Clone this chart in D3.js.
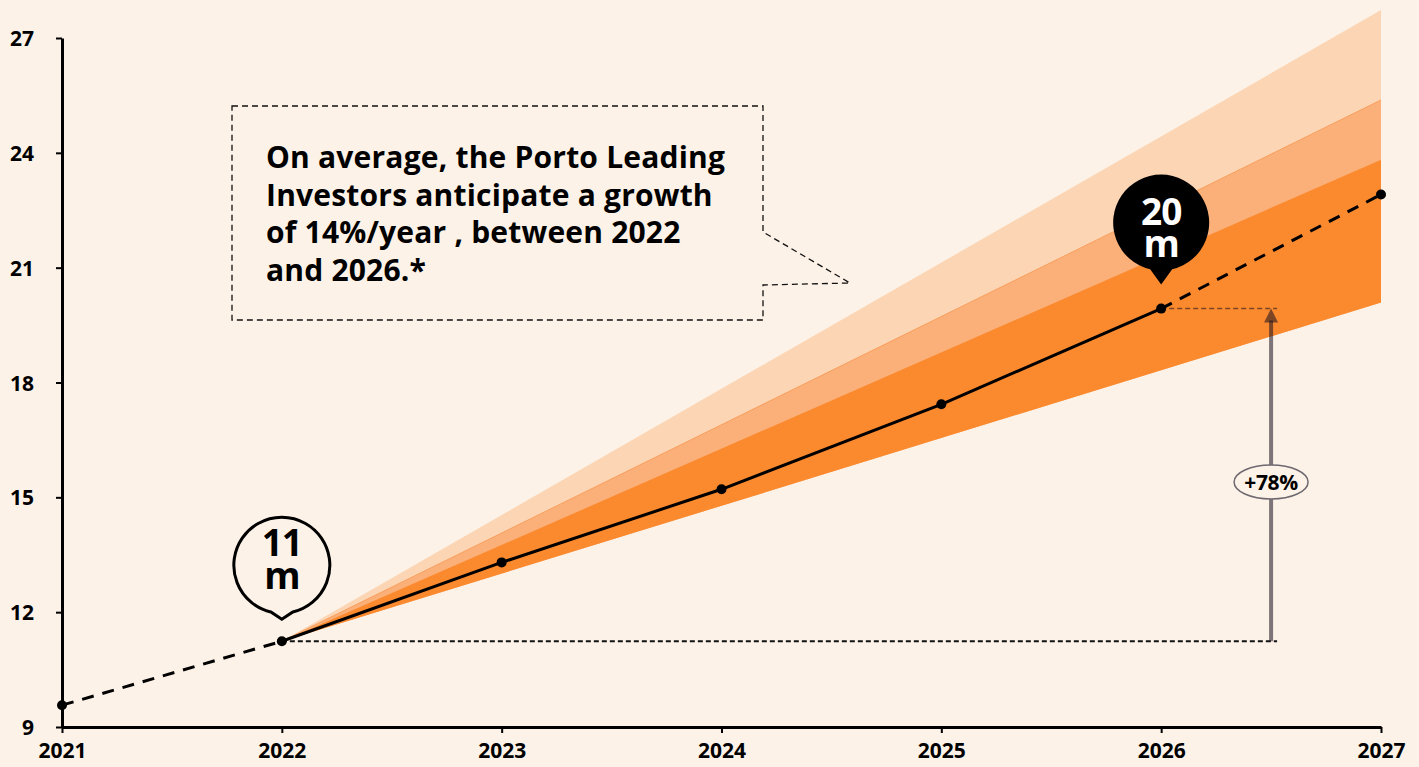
<!DOCTYPE html>
<html>
<head>
<meta charset="utf-8">
<script src="https://cdn.jsdelivr.net/npm/d3@7"></script>
<style>
  html, body { margin: 0; padding: 0; background: #fcf2e8; }
  svg { display: block; }
  text { font-family: "Open Sans", Lato, sans-serif; }
</style>
</head>
<body>
<svg id="chart" width="1419" height="767"></svg>
<script>
// Visitors (millions) per year: historic, forecast and scenario fan
const years = [2021, 2022, 2023, 2024, 2025, 2026, 2027];
const visitors = [9.57, 11.24, 13.30, 15.21, 17.43, 19.93, 22.91];

// Scenario fan edges, from the 2022 starting point out to 2027
const fanYears = [2022, 2027];
const fanHighest = [11.24, 27.73];
const fanHigh = [11.24, 25.38];
const fanMid = [11.24, 23.82];
const fanLow = [11.24, 20.09];

const yTicks = [9, 12, 15, 18, 21, 24, 27];
const xTicks = [2021, 2022, 2023, 2024, 2025, 2026, 2027];

const noteLines = [
  "On average, the Porto Leading",
  "Investors anticipate a growth",
  "of 14%/year , between 2022",
  "and 2026.*"
];
const growthLabel = "+78%";

const svg = d3.select("#chart");
const W = 1419, H = 767;

svg.append("rect").attr("width", W).attr("height", H).attr("fill", "#fcf2e8");

const x = d3.scaleLinear().domain([2021, 2027]).range([62, 1381]);
const y = d3.scaleLinear().domain([9, 27]).range([727, 38]);

// ---- scenario fan ----
function band(upper, lower) {
  const pts = fanYears.map((yr, i) => ({ yr, hi: upper[i], lo: lower[i] }));
  return d3.area().x(d => x(d.yr)).y0(d => y(d.lo)).y1(d => y(d.hi))(pts);
}
const fan = svg.append("g");
fan.append("path").attr("d", band(fanHighest, fanLow)).attr("fill", "#fcd6b4");
fan.append("path").attr("d", band(fanHigh, fanLow)).attr("fill", "#fbb07a");
fan.append("path").attr("d", band(fanMid, fanLow)).attr("fill", "#fb8a2f");
fan.append("path")
  .attr("d", d3.line().x((d, i) => x(fanYears[i])).y(d => y(d))(fanHigh))
  .attr("fill", "none").attr("stroke", "#f99e5c").attr("stroke-width", 1);

// ---- axes ----
const yAxis = svg.append("g")
  .attr("transform", `translate(${x(2021)},0)`)
  .call(d3.axisLeft(y).tickValues(yTicks).tickSize(6).tickSizeOuter(0).tickPadding(22));
const xAxis = svg.append("g")
  .attr("transform", `translate(0,${y(9)})`)
  .call(d3.axisBottom(x).tickValues(xTicks).tickFormat(d3.format("d")).tickSize(6).tickSizeOuter(0).tickPadding(10));
[yAxis, xAxis].forEach(g => {
  g.attr("font-family", null).attr("font-size", null);
  g.select(".domain").attr("stroke", "#000").attr("stroke-width", 3);
  g.selectAll(".tick line").attr("stroke", "#000").attr("stroke-width", 2);
  g.selectAll(".tick text").attr("fill", "#000")
    .style("font-size", "21px").style("font-weight", "700")
    .style("font-family", "'Open Sans', sans-serif");
});
yAxis.selectAll(".tick text").attr("dy", "0.36em");
xAxis.selectAll(".tick text").attr("dy", "0.7em");

// ---- growth marker ----
const arrowX = x(2026.5);
const baseY = y(visitors[1]);
const topY = y(visitors[5]);
const grey = "rgba(20,15,30,0.55)";

svg.append("line")
  .attr("x1", x(2022)).attr("x2", arrowX + 6).attr("y1", baseY).attr("y2", baseY)
  .attr("stroke", "#111").attr("stroke-width", 2).attr("stroke-dasharray", "5,3");
svg.append("line")
  .attr("x1", x(2026)).attr("x2", arrowX + 6).attr("y1", topY).attr("y2", topY)
  .attr("stroke", grey).attr("stroke-width", 1.5).attr("stroke-dasharray", "5,3");
svg.append("line")
  .attr("x1", arrowX).attr("x2", arrowX).attr("y1", baseY).attr("y2", topY + 12)
  .attr("stroke", grey).attr("stroke-width", 4);
svg.append("path")
  .attr("d", `M${arrowX},${topY} L${arrowX - 7},${topY + 14} L${arrowX + 7},${topY + 14} Z`)
  .attr("fill", grey);

const labelY = y(15.4);
svg.append("ellipse")
  .attr("cx", arrowX).attr("cy", labelY).attr("rx", 37).attr("ry", 17)
  .attr("fill", "#fcf2e8").attr("stroke", "#6e6870").attr("stroke-width", 1.5);
svg.append("text")
  .attr("x", arrowX).attr("y", labelY).attr("dy", "0.36em")
  .attr("text-anchor", "middle")
  .style("font-size", "21px").style("font-weight", "700")
  .style("font-family", "'Open Sans', sans-serif").style("letter-spacing", "-0.3px")
  .attr("fill", "#000").text(growthLabel);

// ---- visitor line ----
const pts = years.map((yr, i) => ({ yr, v: visitors[i] }));
const line = d3.line().x(d => x(d.yr)).y(d => y(d.v));
svg.append("path").attr("d", line(pts.slice(0, 2)))
  .attr("fill", "none").attr("stroke", "#000").attr("stroke-width", 3).attr("stroke-dasharray", "12,9");
svg.append("path").attr("d", line(pts.slice(1, 6)))
  .attr("fill", "none").attr("stroke", "#000").attr("stroke-width", 3);
svg.append("path").attr("d", line(pts.slice(5)))
  .attr("fill", "none").attr("stroke", "#000").attr("stroke-width", 3).attr("stroke-dasharray", "12,9");
svg.append("g").selectAll("circle").data(pts).join("circle")
  .attr("cx", d => x(d.yr)).attr("cy", d => y(d.v)).attr("r", 5).attr("fill", "#000");

// ---- value bubbles ----
function bubble(cx, tipY, stem, r, filled, big, small, dyBig, dySmall) {
  const c = tipY - stem;           // circle centre
  const g = svg.append("g");
  const a = Math.asin(11 / r);
  const lx = cx - r * Math.sin(a), ly = c + r * Math.cos(a);
  const rx = cx + r * Math.sin(a);
  const d = `M${rx},${ly} A${r},${r} 0 1 0 ${lx},${ly} L${cx},${tipY} Z`;
  g.append("path").attr("d", d)
    .attr("fill", filled ? "#000" : "#fcf2e8")
    .attr("stroke", "#000").attr("stroke-width", filled ? 0 : 3).attr("stroke-linejoin", "miter");
  const col = filled ? "#fff" : "#000";
  const t = g.append("text").attr("text-anchor", "middle")
    .style("font-size", "37px").style("font-weight", "700")
    .style("font-family", "'Open Sans', sans-serif").style("letter-spacing", "-1px")
    .attr("fill", col);
  t.append("tspan").attr("x", cx).attr("y", c + dyBig).text(big);
  t.append("tspan").attr("x", cx).attr("y", c + dySmall).text(small);
}
bubble(x(2022), y(visitors[1]) - 22, 54, 48, false, "11", "m", -9, 24);
bubble(x(2026), y(visitors[5]) - 24, 62, 48, true, "20", "m", 2, 34);

// ---- note box with tail ----
const note = svg.append("g");
note.append("path")
  .attr("d", "M232,106 L763,106 L763,232 L850,283 L763,285 L763,320 L232,320 Z")
  .attr("fill", "none").attr("stroke", "#111").attr("stroke-width", 1.3)
  .attr("stroke-dasharray", "6,4");
note.selectAll("text").data(noteLines).join("text")
  .attr("x", 266).attr("y", (d, i) => 168 + i * 37.5)
  .style("font-size", "30px").style("font-weight", "700")
  .style("font-family", "'Open Sans', sans-serif").style("letter-spacing", "0.2px")
  .attr("fill", "#000")
  .text(d => d);
</script>
</body>
</html>
